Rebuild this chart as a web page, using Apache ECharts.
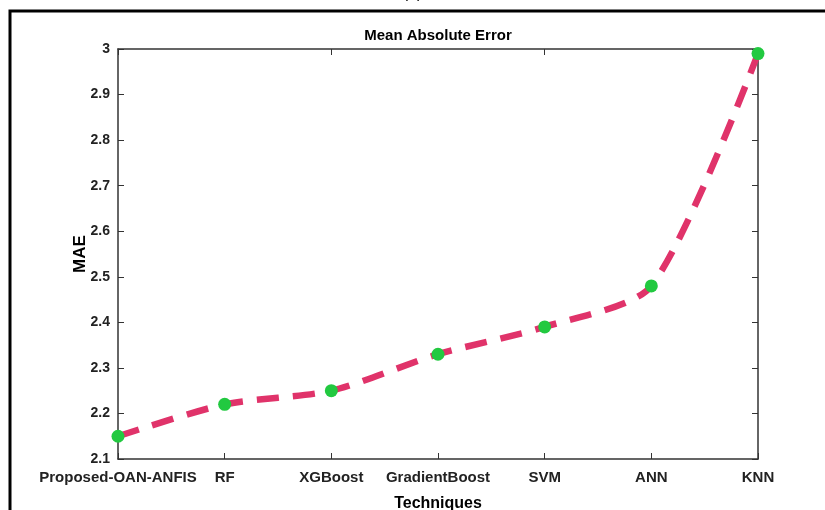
<!DOCTYPE html>
<html>
<head>
<meta charset="utf-8">
<script src="https://cdn.jsdelivr.net/npm/echarts@6/dist/echarts.min.js"></script>
<style>
html, body { margin:0; padding:0; background:#fff; }
#main { width:825px; height:510px; }
</style>
</head>
<body>
<div id="main"></div>
<script>
var techniques = ['Proposed-OAN-ANFIS', 'RF', 'XGBoost', 'GradientBoost', 'SVM', 'ANN', 'KNN'];
var maeValues = [2.15, 2.22, 2.25, 2.33, 2.39, 2.48, 2.99];
var yTicks = [2.1, 3.0];

var font = '"Liberation Sans Narrow", "Liberation Sans", Arial, sans-serif';

function chartInit(objId){
	var dom = document.getElementById(objId);
	var myChart = echarts.init(dom, null, {renderer: 'canvas'});
	var option = {
		animation: false,
		title: {
			text: 'Mean Absolute Error',
			left: 438,
			textAlign: 'center',
			top: 28,
			padding: 0,
			textStyle: { color: '#000', fontWeight: 'bold', fontSize: 15, fontFamily: font }
		},
		graphic: [
			{ type: 'polyline', shape: { points: [[10, 520], [10, 11], [830, 11]] },
			  style: { stroke: '#000', lineWidth: 3, fill: null } },
			{ type: 'text', left: 'center', top: -14, style: { text: '(a)', fontSize: 16, fontFamily: font, fill: '#000' } }
		],
		grid: { left: 118, right: 67, top: 49, bottom: 51, show: false, outerBoundsMode: 'none', containLabel: false },
		xAxis: [{
			type: 'category',
			boundaryGap: false,
			data: techniques,
			name: 'Techniques',
			nameLocation: 'middle',
			nameGap: 37,
			nameMoveOverlap: false,
			nameTextStyle: { color: '#000', fontWeight: 'bold', fontSize: 16, fontFamily: font },
			axisLine: { lineStyle: { color: '#333', width: 1.5 } },
			axisTick: { inside: true, length: 6, lineStyle: { color: '#333' } },
			axisLabel: { color: '#222', fontWeight: 'bold', fontSize: 15, fontFamily: font, margin: 11, interval: 0 },
			splitLine: { show: false }
		}, {
			type: 'category',
			boundaryGap: false,
			data: techniques,
			position: 'top',
			axisLine: { lineStyle: { color: '#333', width: 1.5 } },
			axisTick: { inside: true, length: 6, lineStyle: { color: '#333' } },
			axisLabel: { show: false }
		}],
		yAxis: [{
			type: 'value',
			min: yTicks[0],
			max: yTicks[1],
			interval: 0.1,
			name: 'MAE',
			nameLocation: 'middle',
			nameGap: 29,
			nameMoveOverlap: false,
			nameTextStyle: { color: '#000', fontWeight: 'bold', fontSize: 17, fontFamily: font },
			axisLine: { show: true, lineStyle: { color: '#333', width: 1.5 } },
			axisTick: { show: true, inside: true, length: 6, lineStyle: { color: '#333' } },
			axisLabel: { color: '#222', fontWeight: 'bold', fontSize: 14, fontFamily: font, margin: 8,
				formatter: function(v){ return Math.abs(v - 3) < 1e-9 ? '3' : v.toFixed(1); } },
			splitLine: { show: false }
		}, {
			type: 'value',
			min: yTicks[0],
			max: yTicks[1],
			interval: 0.1,
			position: 'right',
			axisLine: { show: true, lineStyle: { color: '#333', width: 1.5 } },
			axisTick: { show: true, inside: true, length: 6, lineStyle: { color: '#333' } },
			axisLabel: { show: false },
			splitLine: { show: false }
		}],
		series: [{
			type: 'line',
			data: maeValues,
			smooth: 0.25,
			symbol: 'circle',
			symbolSize: 13,
			itemStyle: { color: '#22c940' },
			lineStyle: { color: '#e0336a', width: 6.5, type: [22, 14] },
			z: 3
		}]
	};
	myChart.setOption(option, true);
	return myChart;
}

chartInit('main');
</script>
</body>
</html>
